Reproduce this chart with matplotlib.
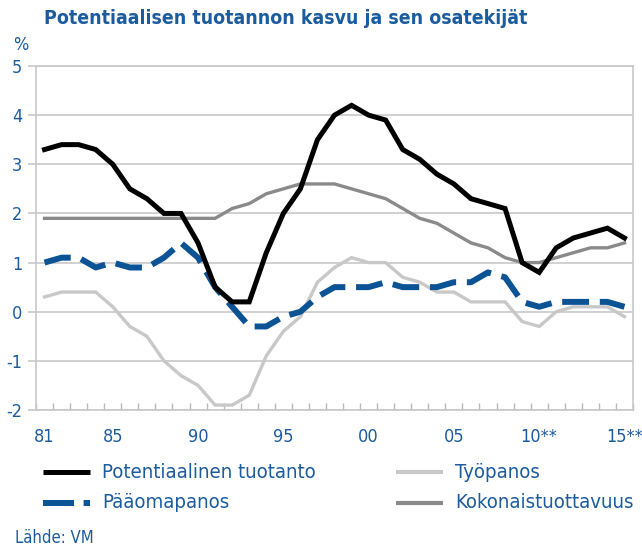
import numpy as np
import matplotlib
matplotlib.use('Agg')
import matplotlib.pyplot as plt
from matplotlib.lines import Line2D
from matplotlib import font_manager as fm

# Data (annual % change), 1981-2015
years = list(range(1981, 2016))
potentiaalinen = [3.3, 3.4, 3.4, 3.3, 3.0, 2.5, 2.3, 2.0, 2.0, 1.4,
                  0.5, 0.2, 0.2, 1.2, 2.0, 2.5, 3.5, 4.0, 4.2, 4.0,
                  3.9, 3.3, 3.1, 2.8, 2.6, 2.3, 2.2, 2.1, 1.0, 0.8,
                  1.3, 1.5, 1.6, 1.7, 1.5]
tyopanos = [0.3, 0.4, 0.4, 0.4, 0.1, -0.3, -0.5, -1.0, -1.3, -1.5,
            -1.9, -1.9, -1.7, -0.9, -0.4, -0.1, 0.6, 0.9, 1.1, 1.0,
            1.0, 0.7, 0.6, 0.4, 0.4, 0.2, 0.2, 0.2, -0.2, -0.3,
            0.0, 0.1, 0.1, 0.1, -0.1]
paaomapanos = [1.0, 1.1, 1.1, 0.9, 1.0, 0.9, 0.9, 1.1, 1.4, 1.1,
               0.5, 0.1, -0.3, -0.3, -0.1, 0.0, 0.3, 0.5, 0.5, 0.5,
               0.6, 0.5, 0.5, 0.5, 0.6, 0.6, 0.8, 0.7, 0.2, 0.1,
               0.2, 0.2, 0.2, 0.2, 0.1]
kokonais = [1.9, 1.9, 1.9, 1.9, 1.9, 1.9, 1.9, 1.9, 1.9, 1.9,
            1.9, 2.1, 2.2, 2.4, 2.5, 2.6, 2.6, 2.6, 2.5, 2.4,
            2.3, 2.1, 1.9, 1.8, 1.6, 1.4, 1.3, 1.1, 1.0, 1.0,
            1.1, 1.2, 1.3, 1.3, 1.4]
tick_years = [1981, 1985, 1990, 1995, 2000, 2005, 2010, 2015]
tick_labels = ['81', '85', '90', '95', '00', '05', '10**', '15**']

BLUE = '#0B5394'
TXT = '#1B5C9E'
LGRAY = '#C8C8C8'
DGRAY = '#8A8A8A'
GRID = '#C8C8C8'

# pick a narrow face if the system has one, else Roboto
narrow = [f for f in fm.fontManager.ttflist
          if ('Narrow' in f.fname or 'Condensed' in f.fname) and f.style == 'normal']
if narrow:
    plt.rcParams['font.family'] = [narrow[0].name, 'DejaVu Sans']
    plt.rcParams['font.stretch'] = narrow[0].stretch
else:
    plt.rcParams['font.family'] = ['Roboto', 'DejaVu Sans']

fig = plt.figure(figsize=(6.42, 5.5), dpi=100)
ax = fig.add_axes([36/642, 1-410/550, (633-36)/642, (410-66)/550])
renderer = fig.canvas.get_renderer()

def fit_width(t, target_px):
    # scale font size so the text spans the target width
    w = t.get_window_extent(renderer=renderer).width
    t.set_fontsize(t.get_fontsize() * target_px / w)

x = np.arange(len(years))
ax.plot(x, kokonais, color=DGRAY, lw=2.4, solid_joinstyle='miter', zorder=3)
ax.plot(x, tyopanos, color=LGRAY, lw=2.4, solid_joinstyle='miter', zorder=3)
ax.plot(x, paaomapanos, color=BLUE, lw=4.3, dashes=(4.5, 1.8), zorder=4)
ax.plot(x, potentiaalinen, color='black', lw=3.6, solid_joinstyle='miter', zorder=5)

ax.set_xlim(-0.5, len(years) - 0.5)
ax.set_ylim(-2, 5)
ax.set_yticks(range(-2, 6))
ax.set_yticklabels([str(v) for v in range(-2, 6)], color=TXT, fontsize=13)
ax.yaxis.grid(True, color=GRID, lw=1.2)
ax.set_axisbelow(True)
ax.tick_params(axis='y', length=6, color=GRID, width=1.2, pad=4)

ax.set_xticks([years.index(y) for y in tick_years])
ax.set_xticklabels(tick_labels, color=TXT, fontsize=13)
ax.tick_params(axis='x', length=0, pad=13)
ax.set_xticks(np.arange(len(years) + 1) - 0.5, minor=True)
ax.tick_params(axis='x', which='minor', direction='in', length=5, color='#B8B8B8', width=1.0)

for s in ax.spines.values():
    s.set_color(GRID)
    s.set_linewidth(1.2)

title = fig.text(44/642, 1-18/550, 'Potentiaalisen tuotannon kasvu ja sen osatekijät',
                 color=TXT, fontsize=16, fontweight='bold', va='center', ha='left')
fit_width(title, 485)
fig.text(13/642, 1-45/550, '%', color=TXT, fontsize=13, va='center', ha='left')

# Legend
legend_items = [
    (43, 472, 'Potentiaalinen tuotanto', 222, dict(color='black', lw=3.6)),
    (43, 503, 'Pääomapanos', None, dict(color=BLUE, lw=4.3, dashes=(5.2, 1.6))),
    (396, 472, 'Työpanos', None, dict(color=LGRAY, lw=3.0)),
    (396, 503, 'Kokonaistuottavuus', 180, dict(color=DGRAY, lw=3.0)),
]
labels = []
for lx, ly, label, target, style in legend_items:
    fig.add_artist(Line2D([lx/642, (lx+47)/642], [1-ly/550, 1-ly/550],
                          transform=fig.transFigure, solid_capstyle='butt', **style))
    t = fig.text((lx+59)/642, 1-ly/550, label, color=TXT, fontsize=15,
                 va='center', ha='left')
    if target:
        fit_width(t, target)
    labels.append(t)
leg_size = min(t.get_fontsize() for t in labels)
for t in labels:
    t.set_fontsize(leg_size)

fig.text(15/642, 1-538/550, 'Lähde: VM', color=TXT, fontsize=12,
         va='center', ha='left')

fig.savefig('out.png', dpi=100)
